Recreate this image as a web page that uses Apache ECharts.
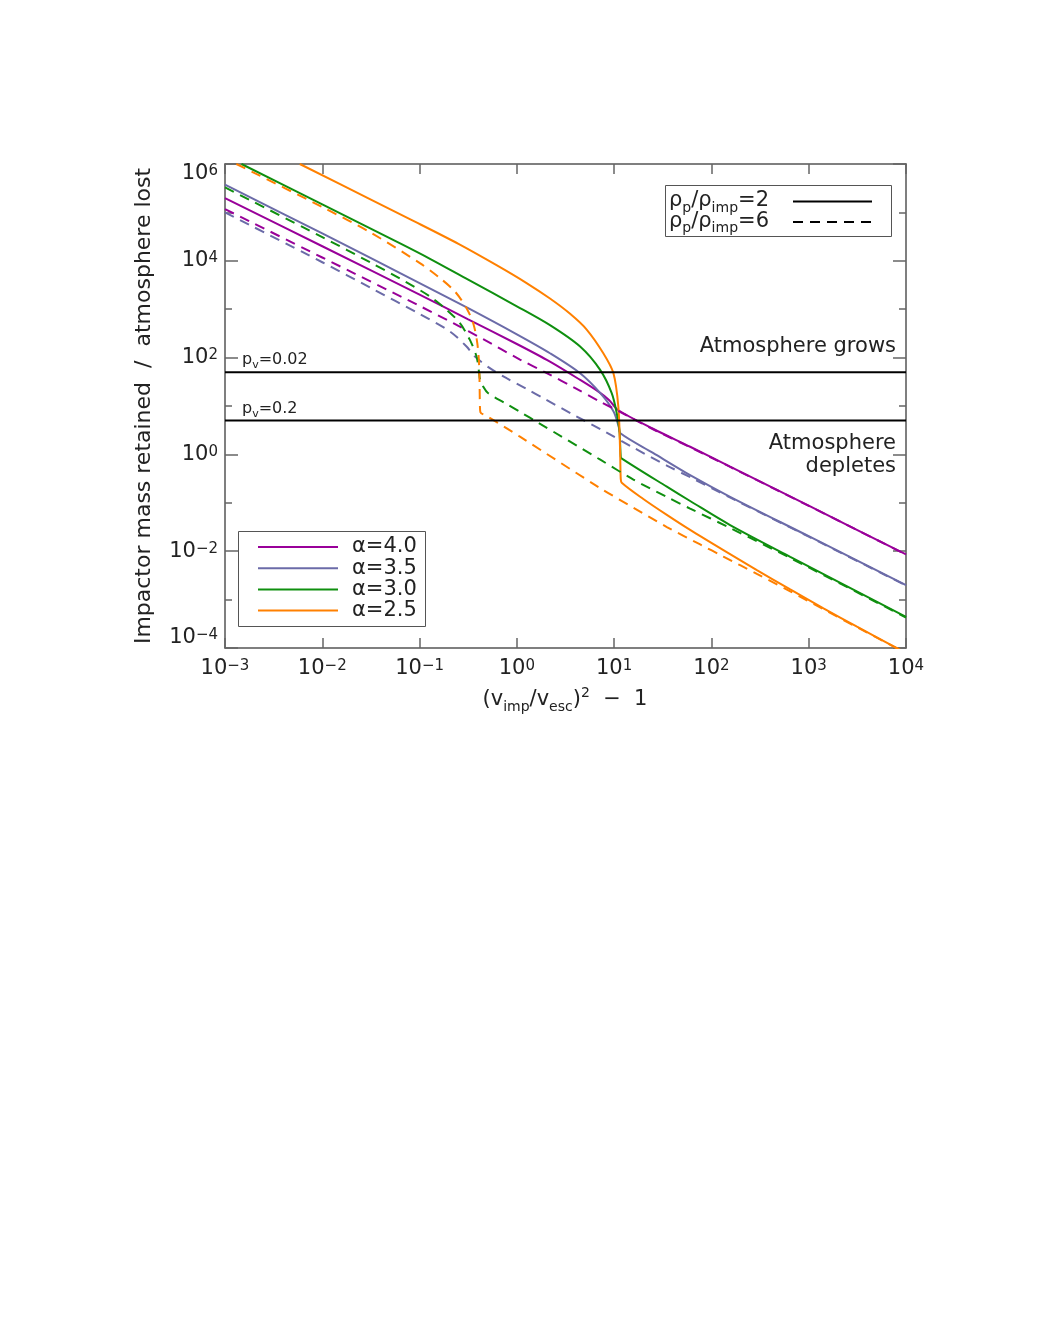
<!DOCTYPE html>
<html>
<head>
<meta charset="utf-8">
<script src="https://cdn.jsdelivr.net/npm/echarts@6/dist/echarts.min.js"></script>
<style>html,body{margin:0;padding:0;background:#fff}#c{width:1038px;height:1343px}</style>
</head>
<body>
<div id="c"></div>
<script>
// ---------------- DATA ----------------
// x: (v_imp/v_esc)^2 - 1 ; y: impactor mass retained / atmosphere lost
// alpha = 4.0, rho_p/rho_imp = 2 (solid)
const a40_r2_x = [0.001, 0.01, 0.1, 0.316, 1, 2.19, 4.47, 6.89, 8.91, 10.96, 25.1, 60.4, 155.6, 1000, 10000];
const a40_r2_y = [1.98e5, 2.0e4, 2.0e3, 617, 191, 82.6, 34.6, 19.8, 13.2, 8.28, 3.39, 1.44, 0.557, 0.0871, 0.00859];
// alpha = 3.5, rho = 2
const a35_r2_x = [0.001, 0.01, 0.1, 0.316, 1, 2.19, 4.47, 7.21, 9.89, 11.14, 11.59, 25.1, 60.4, 155.6, 1000, 10000];
const a35_r2_y = [3.73e5, 3.67e4, 3.47e3, 1.05e3, 302, 123, 47.5, 18.4, 7.64, 3.74, 2.73, 1.07, 0.372, 0.133, 0.0204, 0.00199];
// alpha = 3.0, rho = 2
const a30_r2_x = [1.476e-3, 0.01, 0.0631, 0.128, 0.316, 1, 2.19, 4.47, 7.18, 9.44, 10.64, 11.32, 11.69, 11.89, 34.8, 60.4, 155.6, 645.7, 10000];
const a30_r2_y = [1e6, 1.46e5, 2.29e4, 1.10e4, 4.07e3, 1.15e3, 468, 169, 55.7, 18.4, 7.08, 3.20, 0.895, 0.830, 0.215, 0.109, 0.0347, 0.00766, 0.000440];
// alpha = 2.5, rho = 2
const a25_r2_x = [5.87e-3, 0.0316, 0.0794, 0.251, 0.631, 1.259, 2.19, 3.55, 5.22, 7.74, 9.82, 11.04, 11.51, 11.69, 11.97, 19.95, 34.8, 60.4, 132.7, 293.1, 645.7, 1419, 3133, 10000];
const a25_r2_y = [1e6, 1.84e5, 7.28e4, 2.24e4, 7.94e3, 3.47e3, 1.66e3, 794, 380, 123, 47.9, 9.77, 1.26, 0.316, 0.260, 0.120, 0.0562, 0.0275, 0.0105, 0.00407, 0.00162, 6.61e-4, 2.75e-4, 7.9e-5];
// alpha = 4.0, rho = 6 (dashed)
const a40_r6_x = [0.001, 0.01, 0.1, 0.222, 0.451, 1.076, 2.03, 3.98, 7.18, 11.48, 25.1, 60.4, 155.6, 1000, 10000];
const a40_r6_y = [1.17e5, 1.17e4, 1.17e3, 514, 240, 91.2, 47.9, 23.4, 12.3, 7.59, 3.31, 1.41, 0.552, 0.0865, 0.00855];
// alpha = 3.5, rho = 6
const a35_r6_x = [0.001, 0.01, 0.0316, 0.1, 0.206, 0.304, 0.371, 0.528, 0.785, 1.262, 1.871, 3.98, 8.07, 15.78, 34.8, 63.1, 158.5, 1000, 10000];
const a35_r6_y = [1.0e5, 9.33e3, 2.75e3, 794, 345, 169, 105, 60.4, 37.5, 22.4, 14.5, 6.31, 2.95, 1.38, 0.589, 0.324, 0.126, 0.0200, 0.00195];
// alpha = 3.0, rho = 6
const a30_r6_x = [0.001, 0.01, 0.0316, 0.0631, 0.128, 0.190, 0.260, 0.329, 0.385, 0.410, 0.417, 0.457, 0.504, 0.755, 1.138, 1.660, 7.21, 15.78, 34.8, 60.4, 155.6, 645.7, 10000];
const a30_r6_y = [3.28e5, 3.09e4, 9.12e3, 4.27e3, 1.83e3, 971, 514, 232, 105, 47.5, 36.3, 24.0, 18.6, 11.5, 7.08, 4.52, 0.776, 0.302, 0.132, 0.0759, 0.0302, 0.00724, 0.000427];
// alpha = 2.5, rho = 6
const a25_r6_x = [1.309e-3, 0.01, 0.0316, 0.1007, 0.162, 0.231, 0.304, 0.356, 0.392, 0.410, 0.417, 0.422, 0.489, 1.076, 7.21, 15.78, 34.8, 76.6, 132.7, 293.1, 645.7, 1419, 3133, 10000];
const a25_r6_y = [1e6, 1.29e5, 3.80e4, 8.95e3, 4.39e3, 2.32e3, 1.05e3, 514, 199, 65.2, 10.5, 7.41, 6.22, 2.32, 0.200, 0.0794, 0.0316, 0.0138, 0.00776, 0.00339, 0.00148, 6.31e-4, 2.69e-4, 7.8e-5];

// horizontal reference levels (p_v labels)
const pvLevels = [50, 5];
const pvLabels = ['0.02', '0.2'];

// tick exponents
const xTickExponents = [-3, -2, -1, 0, 1, 2, 3, 4];
const yLabelExponents = [-4, -2, 0, 2, 4, 6];

// legend labels
const alphaLabels = ['4.0', '3.5', '3.0', '2.5'];
const densityRatios = ['2', '6'];

// ---------------- STYLE ----------------
const colors = ['#990099', '#6b6ba8', '#0f8f0f', '#ff8000'];
const FONT = "'DejaVu Sans', sans-serif";
const TXT = '#222';
const DASH = [10, 7];

const zip = (xs, ys) => xs.map((x, i) => [x, ys[i]]);
const solidSets = [[a40_r2_x, a40_r2_y], [a35_r2_x, a35_r2_y], [a30_r2_x, a30_r2_y], [a25_r2_x, a25_r2_y]];
const dashSets = [[a40_r6_x, a40_r6_y], [a35_r6_x, a35_r6_y], [a30_r6_x, a30_r6_y], [a25_r6_x, a25_r6_y]];

const series = [];
solidSets.forEach((s, i) => series.push({
  type: 'line', xAxisIndex: 0, yAxisIndex: 0, data: zip(s[0], s[1]),
  showSymbol: false, symbol: 'none', clip: true, z: 3, smooth: 0.3,
  lineStyle: { color: colors[i], width: 2, type: 'solid' }, silent: true
}));
dashSets.forEach((s, i) => series.push({
  type: 'line', xAxisIndex: 0, yAxisIndex: 0, data: zip(s[0], s[1]),
  showSymbol: false, symbol: 'none', clip: true, z: 4, smooth: 0.3,
  lineStyle: { color: colors[i], width: 2, type: DASH }, silent: true
}));
pvLevels.forEach(v => series.push({
  type: 'line', xAxisIndex: 0, yAxisIndex: 0, data: [[1e-3, v], [1e4, v]],
  showSymbol: false, symbol: 'none', z: 5,
  lineStyle: { color: '#000', width: 2 }, silent: true
}));

const expStr = e => (e < 0 ? '\u2212' + (-e) : String(e));
const labelRich = {
  b: { fontSize: 21, fontFamily: FONT, color: TXT, lineHeight: 20 },
  s: { fontSize: 15, fontFamily: FONT, color: TXT, lineHeight: 14, verticalAlign: 'top' }
};
const axisLineStyle = { color: '#555', width: 1.5 };
const tickStyle = { color: '#666', width: 1.5 };

function valAxis(pos, min, max, interval, len, labels, showLine) {
  return {
    type: 'value', position: pos, min: min, max: max, interval: interval,
    axisLine: { show: showLine, onZero: false, lineStyle: axisLineStyle },
    axisTick: { show: true, inside: true, length: len, lineStyle: tickStyle },
    splitLine: { show: false },
    axisLabel: labels
  };
}
const xLabels = {
  show: true, margin: 11,
  formatter: v => xTickExponents.indexOf(Math.round(v)) >= 0 ? '{b|10}{s|' + expStr(Math.round(v)) + '}' : '',
  rich: labelRich
};
const yLabels = {
  show: true, margin: 7,
  verticalAlignMinLabel: 'bottom', verticalAlignMaxLabel: 'top',
  formatter: v => yLabelExponents.indexOf(Math.round(v)) >= 0 ? '{b|10}{s|' + expStr(Math.round(v)) + '}' : '',
  rich: labelRich
};

const gRich = {
  n: { fontSize: 21, fontFamily: FONT, fill: TXT, color: TXT, lineHeight: 28, verticalAlign: 'middle' },
  t: { fontSize: 22, fontFamily: FONT, fill: TXT, color: TXT, lineHeight: 28, verticalAlign: 'middle' },
  sup: { fontSize: 14, fontFamily: FONT, fill: TXT, color: TXT, lineHeight: 14, verticalAlign: 'top' },
  sub: { fontSize: 14, fontFamily: FONT, fill: TXT, color: TXT, lineHeight: 14, verticalAlign: 'bottom' },
  ns: { fontSize: 16, fontFamily: FONT, fill: TXT, color: TXT, lineHeight: 22, verticalAlign: 'middle' },
  ss: { fontSize: 11, fontFamily: FONT, fill: TXT, color: TXT, lineHeight: 11, verticalAlign: 'bottom' }
};
function gText(x, y, text, align, extra) {
  return Object.assign({
    type: 'text', x: x, y: y, z: 20,
    style: { text: text, rich: gRich, fill: TXT, font: '21px ' + FONT,
      align: align, verticalAlign: 'middle', textAlign: align, textVerticalAlign: 'middle' }
  }, extra || {});
}

const graphic = [];
// alpha legend
graphic.push({ type: 'rect', z: 15, shape: { x: 238.5, y: 531.5, width: 187, height: 95 },
  style: { fill: '#fff', stroke: '#555', lineWidth: 1 } });
alphaLabels.forEach((a, i) => {
  const y = 547 + i * 21.2;
  graphic.push({ type: 'line', z: 16, shape: { x1: 258, y1: y, x2: 338, y2: y },
    style: { stroke: colors[i], lineWidth: 2 } });
  graphic.push(gText(352, y, '{n|\u03b1=' + a + '}', 'left'));
});
// density legend
graphic.push({ type: 'rect', z: 15, shape: { x: 665.5, y: 185.5, width: 226, height: 51 },
  style: { fill: '#fff', stroke: '#555', lineWidth: 1 } });
densityRatios.forEach((r, i) => {
  const y = 201 + i * 20.5;
  graphic.push(gText(669, y, '{n|\u03c1}{sub|p}{n|/\u03c1}{sub|imp}{n|=' + r + '}', 'left'));
  graphic.push({ type: 'line', z: 16, shape: { x1: 793, y1: y + 0.5, x2: 872, y2: y + 0.5 },
    style: { stroke: '#000', lineWidth: 2, lineDash: i === 0 ? null : DASH } });
});
// region annotations
graphic.push(gText(896, 347, '{n|Atmosphere grows}', 'right'));
graphic.push(gText(896, 444, '{n|Atmosphere}', 'right'));
graphic.push(gText(896, 467, '{n|depletes}', 'right'));
// p_v labels
pvLabels.forEach((p, i) => {
  graphic.push(gText(242, i === 0 ? 360 : 409, '{ns|p}{ss|v}{ns|=' + p + '}', 'left'));
});
// axis titles
graphic.push(gText(144, 406, '{t|Impactor mass retained  /  atmosphere lost}', 'center', { rotation: Math.PI / 2 }));
graphic.push(gText(565, 700, '{n|(v}{sub|imp}{n|/v}{sub|esc}{n|)}{sup|2}{n|  \u2212  1}', 'center'));

const option = {
  backgroundColor: '#fff',
  animation: false,
  grid: { left: 225, right: 132, top: 164, bottom: 695, containLabel: false },
  xAxis: [
    { type: 'log', logBase: 10, min: 1e-3, max: 1e4, position: 'bottom',
      axisLine: { show: true, onZero: false, lineStyle: axisLineStyle }, axisTick: { show: false },
      axisLabel: { show: false }, splitLine: { show: false } },
    valAxis('bottom', -3, 4, 1, 10, xLabels, false),
    valAxis('top', -3, 4, 1, 10, { show: false }, true)
  ],
  yAxis: [
    { type: 'log', logBase: 10, min: 1e-4, max: 1e6, position: 'left',
      axisLine: { show: true, onZero: false, lineStyle: axisLineStyle }, axisTick: { show: false },
      axisLabel: { show: false }, splitLine: { show: false } },
    valAxis('left', -4, 6, 1, 7, yLabels, false),
    valAxis('left', -4, 6, 2, 13, { show: false }, false),
    valAxis('right', -4, 6, 1, 7, { show: false }, true),
    valAxis('right', -4, 6, 2, 13, { show: false }, false)
  ],
  series: series,
  graphic: graphic
};

const chart = echarts.init(document.getElementById('c'), null, { renderer: 'canvas' });
chart.setOption(option);
</script>
</body>
</html>
